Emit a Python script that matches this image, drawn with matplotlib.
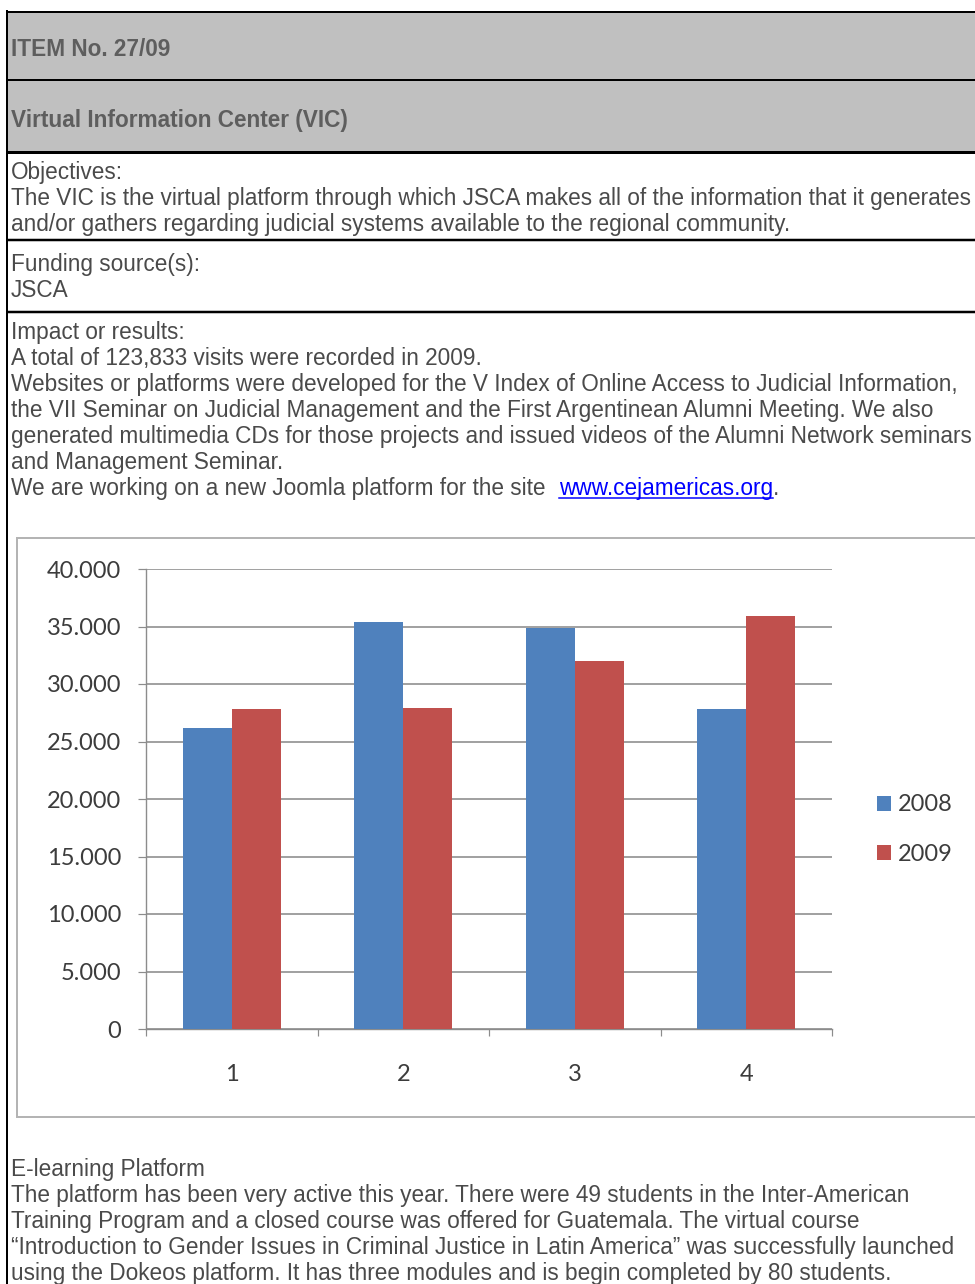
import matplotlib
matplotlib.use('Agg')
import matplotlib.pyplot as plt
import numpy as np
from matplotlib.patches import Rectangle, Patch

# ---------------- data ----------------
categories = ['1', '2', '3', '4']
visits_2008 = [26200, 35400, 34900, 27800]
visits_2009 = [27800, 27900, 32000, 35900]
series_labels = ['2008', '2009']
y_ticks = [0, 5000, 10000, 15000, 20000, 25000, 30000, 35000, 40000]
y_tick_labels = ['0', '5.000', '10.000', '15.000', '20.000', '25.000', '30.000', '35.000', '40.000']

header_1 = 'ITEM No. 27/09'
header_2 = 'Virtual Information Center (VIC)'
block_1 = ['Objectives:',
           'The VIC is the virtual platform through which JSCA makes all of the information that it generates',
           'and/or gathers regarding judicial systems available to the regional community.']
block_2 = ['Funding source(s):', 'JSCA']
block_3 = ['Impact or results:',
           'A total of 123,833 visits were recorded in 2009.',
           'Websites or platforms were developed for the V Index of Online Access to Judicial Information,',
           'the VII Seminar on Judicial Management and the First Argentinean Alumni Meeting. We also',
           'generated multimedia CDs for those projects and issued videos of the Alumni Network seminars',
           'and Management Seminar.']
link_prefix = 'We are working on a new Joomla platform for the site'
link_text = 'www.cejamericas.org'
block_4 = ['E-learning Platform',
           'The platform has been very active this year. There were 49 students in the Inter-American',
           'Training Program and a closed course was offered for Guatemala. The virtual course',
           '\u201cIntroduction to Gender Issues in Criminal Justice in Latin America\u201d was successfully launched',
           'using the Dokeos platform. It has three modules and is begin completed by 80 students.']

# ---------------- figure ----------------
W, H = 975, 1284
fig = plt.figure(figsize=(W / 100, H / 100), dpi=100)
fig.patch.set_facecolor('white')
bg = fig.add_axes([0, 0, 1, 1])
bg.set_xlim(0, W)
bg.set_ylim(H, 0)
bg.axis('off')

PX = 0.72  # points per pixel
body_font = 'Liberation Sans'
body_size = 16.3
body_color = '#4a4a4a'

# header gray boxes
bg.add_patch(Rectangle((7, 12), W - 7, 140, facecolor='#c0c0c0', edgecolor='none', zorder=0))
# table lines
for y, lw in [(12, 2), (80, 2), (152, 3), (240, 2.5), (312, 2.5)]:
    bg.plot([7, W], [y, y], color='black', lw=lw * PX, solid_capstyle='butt', zorder=2)
bg.plot([7, 7], [11, H], color='black', lw=2 * PX, zorder=2)

# headers
bg.text(11, 56, header_1, fontfamily=body_font, fontweight='bold', fontsize=body_size,
        color='#5e5e5e', va='baseline', ha='left')
bg.text(11, 127, header_2, fontfamily=body_font, fontweight='bold', fontsize=body_size,
        color='#5e5e5e', va='baseline', ha='left')

def write_lines(lines, y0, step=26):
    for i, s in enumerate(lines):
        bg.text(11, y0 + i * step, s, fontfamily=body_font, fontsize=body_size,
                color=body_color, va='baseline', ha='left')

write_lines(block_1, 179)
write_lines(block_2, 271)
write_lines(block_3, 339)
write_lines(block_4, 1176)

# link line
bg.text(11, 495, link_prefix, fontfamily=body_font, fontsize=body_size,
        color=body_color, va='baseline', ha='left')
lt = bg.text(559, 495, link_text, fontfamily=body_font, fontsize=body_size,
             color='#0000ff', va='baseline', ha='left')
fig.canvas.draw()
r = fig.canvas.get_renderer()
bb = lt.get_window_extent(r)
x_end = bg.transData.inverted().transform((bb.x1, bb.y0))[0]
bg.plot([559, x_end], [498, 498], color='#0000ff', lw=1.5 * PX, zorder=3)
bg.text(x_end, 495, '.', fontfamily=body_font, fontsize=body_size,
        color=body_color, va='baseline', ha='left')

# chart frame
bg.add_patch(Rectangle((17, 538), W, 1117 - 538, facecolor='white',
                       edgecolor='#b4b4b4', lw=2 * PX, zorder=1))

# ---------------- chart ----------------
ax_left, ax_right, ax_top, ax_bottom = 146, 832, 569, 1029
ax = fig.add_axes([ax_left / W, 1 - ax_bottom / H, (ax_right - ax_left) / W, (ax_bottom - ax_top) / H])
ax.set_facecolor('none')
x = np.arange(len(categories))
bw = 1 / 3.5
ax.bar(x - bw / 2, visits_2008, bw, color='#4f81bd', zorder=3)
ax.bar(x + bw / 2, visits_2009, bw, color='#c0504d', zorder=3)
ax.set_xlim(-0.5, len(categories) - 0.5)
ax.set_ylim(0, 40000)

chart_font = ['Lato', 'DejaVu Sans']
axis_gray = '#8c8c8c'
ax.set_yticks(y_ticks)
ax.set_yticklabels(y_tick_labels, fontfamily=chart_font, fontsize=17, color='#3c3c3c')
ax.set_xticks(np.arange(-0.5, len(categories)), [''] * (len(categories) + 1))
ax.set_xticks(x, categories, minor=True, fontfamily=chart_font, fontsize=17, color='#3c3c3c')
ax.tick_params(axis='y', which='major', length=8 * PX, width=1.2 * PX, color=axis_gray, pad=17 * PX)
ax.tick_params(axis='x', which='major', length=7 * PX, width=1.2 * PX, color=axis_gray)
ax.tick_params(axis='x', which='minor', length=0, pad=35 * PX)
ax.grid(axis='y', color=axis_gray, lw=1.6 * PX, zorder=0)
ax.set_axisbelow(True)
for s in ['top', 'right']:
    ax.spines[s].set_visible(False)
for s in ['left', 'bottom']:
    ax.spines[s].set_color(axis_gray)
    ax.spines[s].set_linewidth(1.4 * PX)

handles = [Patch(facecolor='#4f81bd'), Patch(facecolor='#c0504d')]
leg = ax.legend(handles, series_labels, loc='center left',
                bbox_to_anchor=(877 / W, 1 - 829.5 / H), bbox_transform=fig.transFigure,
                frameon=False, handlelength=0.6, handleheight=0.6, handletextpad=0.3,
                labelspacing=1.2, borderpad=0, borderaxespad=0,
                prop={'family': chart_font, 'size': 17})
for t in leg.get_texts():
    t.set_color('#3c3c3c')

fig.savefig('out.png', dpi=100, facecolor='white')
